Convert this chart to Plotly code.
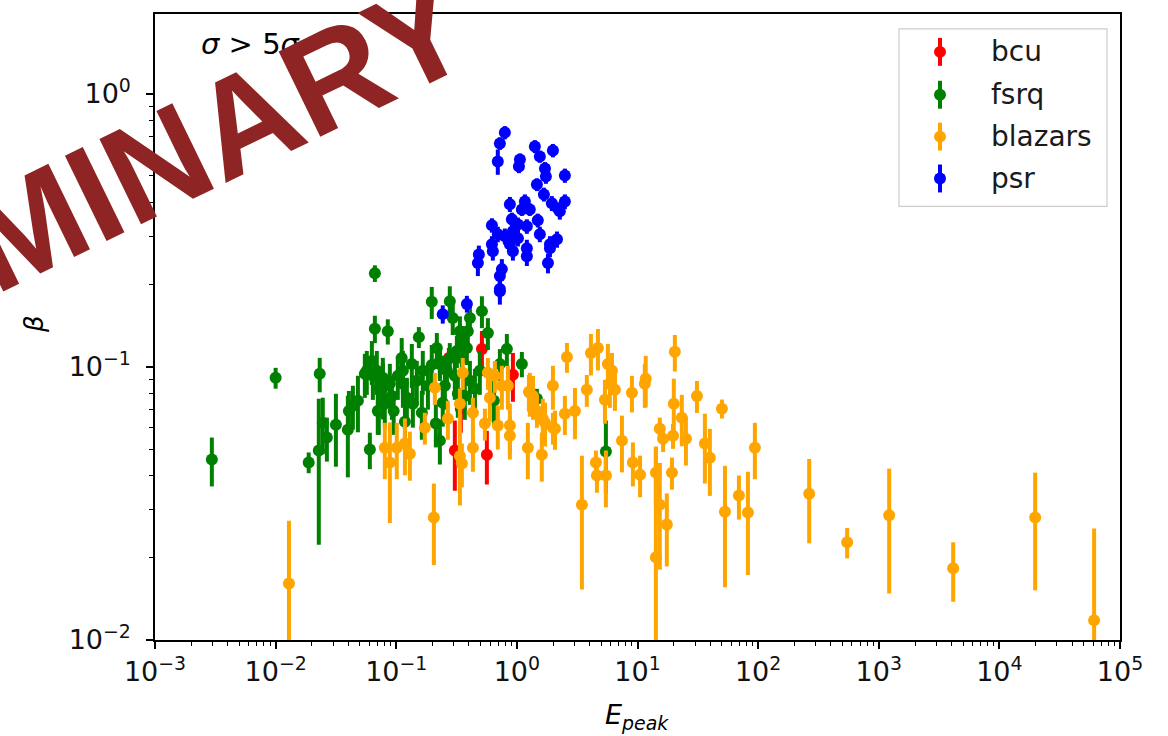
import plotly.graph_objects as go

# ---------------- data ----------------
bcu_x = [0.513, 0.927, 0.306, 0.564, 0.343, 0.273]
bcu_y = [0.1163, 0.0935, 0.0494, 0.0477, 0.0703, 0.1078]
bcu_err = [0.0190, 0.0190, 0.0142, 0.0106, 0.0129, 0.0095]

fsrq_x = [0.00296, 0.0100, 0.0232, 0.0665, 0.0665, 0.0851, 0.0188, 0.0228, 0.0246, 0.0266,
          0.0316, 0.0397, 0.0405, 0.0437, 0.0481, 0.0604, 0.057, 0.0628, 0.064, 0.0703,
          0.0774, 0.069, 0.0774, 0.0885, 0.0731, 0.0804, 0.0717, 0.111, 0.1135, 0.1225,
          0.154, 0.197, 0.278, 0.217, 0.230, 0.263, 0.148, 0.166, 0.1346, 0.1135,
          0.1373, 0.163, 0.213, 0.243, 0.324, 0.294, 0.337, 0.356, 0.408, 0.392,
          0.385, 0.513, 0.575, 0.826, 0.723, 1.10, 1.465, 0.408, 0.493, 0.350,
          0.318, 0.278, 0.230, 5.47, 0.0549, 0.092, 0.103, 0.183, 0.197, 0.253,
          0.306, 0.370, 0.449, 0.645, 0.230, 0.118, 0.0952]
fsrq_y = [0.0458, 0.0912, 0.0943, 0.220, 0.138, 0.135, 0.0447, 0.0494, 0.0625, 0.0551,
          0.0614, 0.0589, 0.0690, 0.0721, 0.0752, 0.0498, 0.0967, 0.1051, 0.0927, 0.0690,
          0.0838, 0.0967, 0.0912, 0.0867, 0.0838, 0.0733, 0.0690, 0.1078, 0.0967, 0.0771,
          0.1285, 0.173, 0.174, 0.1173, 0.1025, 0.0967, 0.0889, 0.0967, 0.1025, 0.0867,
          0.0733, 0.0679, 0.0620, 0.0739, 0.0797, 0.151, 0.135, 0.1244, 0.151, 0.135,
          0.1173, 0.160, 0.133, 0.1163, 0.1025, 0.1025, 0.0764, 0.0889, 0.0967, 0.1078,
          0.1144, 0.1078, 0.1051, 0.0490, 0.0943, 0.0783, 0.0927, 0.0853, 0.1017, 0.0853,
          0.0927, 0.0783, 0.0831, 0.0752, 0.0537, 0.0630, 0.0690]
fsrq_err = [0.0093, 0.0080, 0.0136, 0.0154, 0.0159, 0.0143, 0.0039, 0.0271, 0.0146, 0.0101,
            0.0183, 0.0195, 0.0126, 0.0132, 0.0176, 0.0076, 0.0177, 0.0192, 0.0170, 0.0126,
            0.0196, 0.0177, 0.0167, 0.0159, 0.0153, 0.0134, 0.0126, 0.0197, 0.0177, 0.0141,
            0.0113, 0.0232, 0.0233, 0.0157, 0.0137, 0.0130, 0.0163, 0.0177, 0.0188, 0.0159,
            0.0134, 0.0138, 0.0113, 0.0135, 0.0146, 0.0202, 0.0181, 0.0167, 0.0202, 0.0181,
            0.0157, 0.0214, 0.0178, 0.0156, 0.0137, 0.0109, 0.0067, 0.0163, 0.0177, 0.0144,
            0.0153, 0.0144, 0.0141, 0.0146, 0.0173, 0.0143, 0.0170, 0.0156, 0.0186, 0.0156,
            0.0170, 0.0143, 0.0152, 0.0138, 0.0098, 0.0115, 0.0126]

blazars_x = [0.0129, 0.205, 61000, 19800, 4140, 1220, 547, 265, 20.4, 8.99,
             11.7, 11.5, 31.1, 50.1, 20.0, 23.3, 25.2, 15.3, 16.3, 19.7,
             36.2, 39.8, 7.43, 9.16, 10.5, 14.2, 15.3, 17.5, 14.2, 19.3,
             53.1, 69.3, 82.3, 94.0, 2.60, 4.11, 4.70, 5.68, 6.14, 5.90,
             6.50, 5.37, 3.80, 1.99, 1.258, 1.465, 1.71, 1.99, 2.50, 3.03,
             1.233, 1.61, 3.46, 4.52, 4.61, 5.47, 0.209, 0.356, 0.268, 0.432,
             0.432, 0.543, 0.337, 0.575, 0.657, 0.597, 0.751, 0.842, 0.695, 0.875,
             0.875, 1.28, 1.36, 1.64, 2.07, 0.1726, 0.0804, 0.118, 0.1297, 0.0885,
             0.101, 0.337, 0.350]
blazars_y = [0.0161, 0.0281, 0.0118, 0.0281, 0.0183, 0.0286, 0.0228, 0.0343, 0.1135, 0.0804,
             0.0904, 0.0867, 0.0783, 0.0703, 0.0733, 0.0651, 0.0546, 0.0594, 0.0546, 0.0560,
             0.0524, 0.0465, 0.0537, 0.0447, 0.0403, 0.0410, 0.0313, 0.0265, 0.0201, 0.0410,
             0.0295, 0.0338, 0.0293, 0.0506, 0.1087, 0.1125, 0.1173, 0.1025, 0.0967, 0.0867,
             0.0824, 0.0758, 0.0824, 0.0853, 0.0810, 0.0690, 0.0625, 0.0599, 0.0673, 0.0690,
             0.0506, 0.0477, 0.0313, 0.0447, 0.0400, 0.0400, 0.0838, 0.0951, 0.0646, 0.0679,
             0.0506, 0.0620, 0.0472, 0.0951, 0.0927, 0.0771, 0.0853, 0.0853, 0.0610, 0.0610,
             0.0560, 0.0804, 0.0783, 0.0646, 0.0594, 0.0599, 0.0506, 0.0524, 0.0481, 0.0447,
             0.0506, 0.0733, 0.0443]
blazars_err = [0.0112, 0.0093, 0.0138, 0.0129, 0.0045, 0.0138, 0.0029, 0.0117, 0.0174, 0.0123,
               0.0193, 0.0159, 0.0105, 0.0056, 0.0172, 0.0139, 0.0111, 0.0058, 0.0058, 0.0059,
               0.0150, 0.0128, 0.0126, 0.0082, 0.0070, 0.0096, 0.0132, 0.0079, 0.0310, 0.0055,
               0.0139, 0.0062, 0.0120, 0.0118, 0.0136, 0.0195, 0.0203, 0.0188, 0.0158, 0.0159,
               0.0134, 0.0139, 0.0110, 0.0156, 0.0124, 0.0092, 0.0114, 0.0080, 0.0110, 0.0147,
               0.0118, 0.0097, 0.0160, 0.0047, 0.0054, 0.0094, 0.0112, 0.0127, 0.0105, 0.0091,
               0.0093, 0.0083, 0.0161, 0.0127, 0.0124, 0.0141, 0.0156, 0.0156, 0.0112, 0.0124,
               0.0102, 0.0147, 0.0143, 0.0118, 0.0097, 0.0080, 0.0118, 0.0123, 0.0098, 0.0179,
               0.0118, 0.0100, 0.0081]

psr_x = [0.795, 0.723, 0.695, 1.06, 1.04, 1.41, 1.99, 1.55, 1.71, 1.74,
         2.50, 1.465, 1.675, 1.95, 2.19, 2.50, 2.27, 0.875, 1.165, 1.10,
         1.28, 0.909, 1.02, 0.621, 1.49, 1.21, 0.695, 0.795, 0.927, 1.02,
         0.621, 0.632, 0.875, 0.927, 1.21, 1.21, 1.55, 1.88, 2.15, 1.88,
         1.81, 0.484, 0.475, 0.751, 0.723, 0.723, 0.243, 0.385, 0.723]
psr_y = [0.721, 0.658, 0.565, 0.574, 0.542, 0.641, 0.620, 0.589, 0.532, 0.498,
         0.502, 0.465, 0.428, 0.397, 0.380, 0.403, 0.371, 0.394, 0.403, 0.377,
         0.377, 0.347, 0.332, 0.330, 0.344, 0.327, 0.306, 0.301, 0.314, 0.296,
         0.281, 0.265, 0.281, 0.265, 0.272, 0.254, 0.306, 0.281, 0.293, 0.272,
         0.240, 0.258, 0.240, 0.228, 0.215, 0.189, 0.156, 0.170, 0.193]
psr_err = [0.04, 0.035, 0.06, 0.03, 0.03, 0.035, 0.035, 0.03, 0.03, 0.03,
           0.03, 0.025, 0.025, 0.025, 0.02, 0.025, 0.025, 0.025, 0.025, 0.02,
           0.02, 0.02, 0.02, 0.02, 0.02, 0.02, 0.02, 0.02, 0.02, 0.02,
           0.02, 0.02, 0.02, 0.02, 0.02, 0.02, 0.02, 0.02, 0.02, 0.02,
           0.02, 0.02, 0.025, 0.02, 0.02, 0.02, 0.012, 0.012, 0.015]

series_names = ["bcu", "fsrq", "blazars", "psr"]
series_colors = ["#ff0000", "#008000", "#ffa500", "#0000ff"]
series_x = [bcu_x, fsrq_x, blazars_x, psr_x]
series_y = [bcu_y, fsrq_y, blazars_y, psr_y]
series_err = [bcu_err, fsrq_err, blazars_err, psr_err]

x_exponents = list(range(-3, 6))
y_exponents = [-2, -1, 0]

# ---------------- layout helpers ----------------
W, H = 1168, 736
L, R, T, B = 155, 1120, 12, 640


def pxx(x):
    return (x - L) / (R - L)


def pxy(y):
    return (B - y) / (B - T)


def sup(k):
    s = str(k).replace("-", "\u2212")
    return "10<sup>" + s + "</sup>"


minor_x = [m * 10.0 ** k for k in range(-3, 5) for m in range(2, 10)]
minor_y = [m * 10.0 ** k for k in range(-2, 1) for m in range(2, 10)]

fig = go.Figure()
for name, xs, ys, es, col in zip(series_names, series_x, series_y, series_err, series_colors):
    fig.add_trace(go.Scatter(
        x=xs, y=ys, mode="markers", name=name, showlegend=False,
        marker=dict(color=col, size=12, line=dict(width=0)),
        error_y=dict(type="data", array=es, symmetric=True, color=col, thickness=4, width=0),
    ))

axis_common = dict(
    type="log", showgrid=False, zeroline=False, showline=True, mirror=True,
    linecolor="black", linewidth=1.5, ticks="outside", ticklen=7, tickwidth=1.5,
    tickcolor="black", tickfont=dict(family="DejaVu Sans", size=27, color="#111111"),
)

fig.update_layout(
    width=W, height=H,
    margin=dict(l=L, r=W - R, t=T, b=H - B),
    paper_bgcolor="white", plot_bgcolor="white",
    font=dict(family="DejaVu Sans", color="black"),
    xaxis=dict(**axis_common, range=[-3, 5], ticklabelstandoff=0,
               tickvals=[10.0 ** k for k in x_exponents],
               ticktext=[sup(k) for k in x_exponents],
               minor=dict(ticks="outside", ticklen=4, tickwidth=1, tickcolor="black",
                          tickvals=minor_x, showgrid=False)),
    yaxis=dict(**axis_common, range=[-2, 0.292], ticklabelstandoff=10,
               tickvals=[10.0 ** k for k in y_exponents],
               ticktext=[sup(k) for k in y_exponents],
               minor=dict(ticks="outside", ticklen=4, tickwidth=1, tickcolor="black",
                          tickvals=minor_y, showgrid=False)),
)

shapes = []
annotations = []

# custom legend (matplotlib style: dot with vertical error bar)
shapes.append(dict(type="rect", xref="paper", yref="paper",
                   x0=pxx(899), x1=pxx(1107), y0=pxy(205), y1=pxy(27),
                   line=dict(color="#cccccc", width=1.2), fillcolor="rgba(255,255,255,0.8)",
                   layer="above"))
leg_y = [50, 93, 135, 177]
for name, col, yy in zip(series_names, series_colors, leg_y):
    shapes.append(dict(type="line", xref="paper", yref="paper",
                       x0=pxx(940), x1=pxx(940), y0=pxy(yy + 14), y1=pxy(yy - 14),
                       line=dict(color=col, width=4), layer="above"))
    shapes.append(dict(type="circle", xref="paper", yref="paper",
                       x0=pxx(934), x1=pxx(946), y0=pxy(yy + 6), y1=pxy(yy - 6),
                       line=dict(color=col, width=0), fillcolor=col, layer="above"))
    annotations.append(dict(text=name, xref="paper", yref="paper", x=pxx(989), y=pxy(yy),
                            xanchor="left", yanchor="middle", showarrow=False,
                            font=dict(family="DejaVu Sans", size=28, color="#1a1a1a")))

# axis titles
annotations.append(dict(text="<i>E</i><sub><i>peak</i></sub>", xref="paper", yref="paper",
                        x=pxx(637), y=pxy(717), xanchor="center", yanchor="middle",
                        showarrow=False, font=dict(family="DejaVu Sans", size=27)))
annotations.append(dict(text="<i>β</i>", xref="paper", yref="paper",
                        x=pxx(34), y=pxy(323), xanchor="center", yanchor="middle",
                        textangle=-90, showarrow=False, font=dict(family="DejaVu Sans", size=26)))

# in-plot label
annotations.append(dict(text="<i>σ</i> > 5<i>σ</i>", xref="paper", yref="paper",
                        x=pxx(199), y=pxy(42), xanchor="left", yanchor="middle",
                        showarrow=False, font=dict(family="DejaVu Sans", size=29)))

# watermark
annotations.append(dict(text="<b>PRELIMINARY</b>", xref="paper", yref="paper",
                        x=pxx(34), y=pxy(222), xanchor="center", yanchor="middle",
                        textangle=-26, showarrow=False,
                        font=dict(family="Liberation Sans", size=138, color="#8e2424")))

fig.update_layout(shapes=shapes, annotations=annotations)
fig.write_html("out.html")
